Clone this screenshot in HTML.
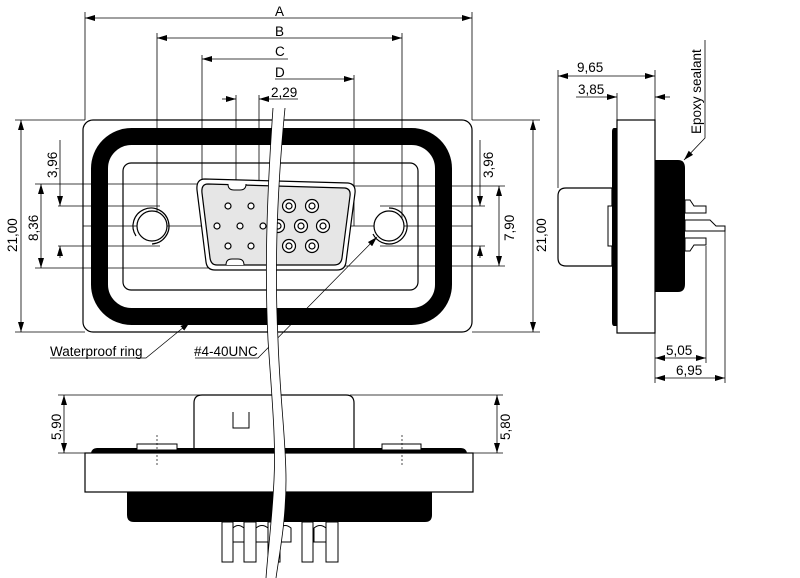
<!DOCTYPE html>
<html><head><meta charset="utf-8"><style>
html,body{margin:0;padding:0;background:#fff;}
svg{display:block;}
text{font-family:"Liberation Sans",sans-serif;font-size:13.5px;fill:#000;}
</style></head><body>
<svg width="800" height="578" viewBox="0 0 800 578" xmlns="http://www.w3.org/2000/svg">
<defs>
<marker id="a" viewBox="0 0 10 6" refX="10" refY="3" markerWidth="10" markerHeight="6" orient="auto-start-reverse" markerUnits="userSpaceOnUse"><path d="M0,0L10,3L0,6z" fill="#000"/></marker>
</defs>
<g stroke="#000" stroke-width="0.8" fill="none">
<line x1="85" y1="12" x2="85" y2="120"/><line x1="472" y1="12" x2="472" y2="120"/>
<line x1="85" y1="18" x2="472" y2="18" marker-start="url(#a)" marker-end="url(#a)"/>
<line x1="157" y1="33" x2="157" y2="226"/><line x1="402" y1="33" x2="402" y2="226"/>
<line x1="157" y1="38" x2="402" y2="38" marker-start="url(#a)" marker-end="url(#a)"/>
<line x1="202" y1="55" x2="202" y2="226"/>
<line x1="202" y1="59" x2="288" y2="59" marker-start="url(#a)"/>
<line x1="354" y1="75" x2="354" y2="226"/>
<line x1="275" y1="79" x2="354" y2="79" marker-end="url(#a)"/>
<line x1="236" y1="95" x2="236" y2="206"/><line x1="259" y1="95" x2="259" y2="206"/>
<line x1="222" y1="99" x2="236" y2="99" marker-end="url(#a)"/>
<line x1="298" y1="99" x2="259" y2="99" marker-end="url(#a)"/>
<line x1="15" y1="120" x2="85" y2="120"/><line x1="15" y1="332" x2="85" y2="332"/>
<line x1="21" y1="120" x2="21" y2="332" marker-start="url(#a)" marker-end="url(#a)"/>
<line x1="472" y1="120" x2="540" y2="120"/><line x1="472" y1="332" x2="540" y2="332"/>
<line x1="533" y1="120" x2="533" y2="332" marker-start="url(#a)" marker-end="url(#a)"/>
<line x1="35" y1="184" x2="200" y2="184"/><line x1="35" y1="268" x2="208" y2="268"/>
<line x1="41" y1="184" x2="41" y2="268" marker-start="url(#a)" marker-end="url(#a)"/>
<line x1="58" y1="206" x2="160" y2="206"/><line x1="58" y1="246" x2="160" y2="246"/>
<line x1="60" y1="140" x2="60" y2="206" marker-end="url(#a)"/>
<line x1="60" y1="246" x2="60" y2="258" marker-start="url(#a)"/>
<line x1="380" y1="206" x2="485" y2="206"/><line x1="380" y1="246" x2="485" y2="246"/>
<line x1="480" y1="140" x2="480" y2="206" marker-end="url(#a)"/>
<line x1="480" y1="246" x2="480" y2="258" marker-start="url(#a)"/>
<line x1="345" y1="186" x2="505" y2="186"/><line x1="345" y1="266" x2="505" y2="266"/>
<line x1="499" y1="186" x2="499" y2="266" marker-start="url(#a)" marker-end="url(#a)"/>
</g>
<rect x="83" y="120" width="389" height="212" rx="10" fill="none" stroke="#000" stroke-width="1.2"/>
<rect x="99.5" y="136.5" width="344" height="180" rx="32" fill="none" stroke="#000" stroke-width="17"/>
<rect x="123" y="163" width="295" height="127" rx="8" fill="none" stroke="#000" stroke-width="1.2"/>
<g stroke="#000" stroke-width="0.8"><line x1="83" y1="226" x2="472" y2="226"/></g>
<path d="M205,179 L348,183 Q356,184 355,193 L346,262 Q345,270 337,270 L215,270 Q207,270 206,262 L197,190 Q196,179 205,179Z" fill="#fff" stroke="#000" stroke-width="1.2"/>
<path d="M208,184 L345,188 Q351,189 350,196 L342,258 Q341,265 334,265 L217,265 Q211,265 210,258 L202,193 Q201,184 208,184Z" fill="#e6e6e6" stroke="#000" stroke-width="1.2"/>
<path d="M228,184 q0,6 6,6 h6 q6,0 6,-6" fill="#fff" stroke="#000"/>
<path d="M226,265 q0,-6 6,-6 h6 q6,0 6,6" fill="#fff" stroke="#000"/>
<g fill="#fff" stroke="#000" stroke-width="1.2">
<circle cx="228" cy="206" r="3"/><circle cx="251" cy="206" r="3"/>
<circle cx="217" cy="226" r="3"/><circle cx="240" cy="226" r="3"/><circle cx="263" cy="226" r="3"/>
<circle cx="228" cy="246" r="3"/><circle cx="251" cy="246" r="3"/>
<circle cx="289" cy="206" r="6.5"/><circle cx="312" cy="206" r="6.5"/>
<circle cx="278" cy="226" r="6.5"/><circle cx="301" cy="226" r="6.5"/><circle cx="323" cy="226" r="6.5"/>
<circle cx="289" cy="246" r="6.5"/><circle cx="312" cy="246" r="6.5"/>
<circle cx="289" cy="206" r="3"/><circle cx="312" cy="206" r="3"/>
<circle cx="278" cy="226" r="3"/><circle cx="301" cy="226" r="3"/><circle cx="323" cy="226" r="3"/>
<circle cx="289" cy="246" r="3"/><circle cx="312" cy="246" r="3"/>
<circle cx="152" cy="226" r="15"/><circle cx="389" cy="226" r="15"/>
</g>
<g fill="none" stroke="#000" stroke-width="1.2">
<path d="M136,236 A18,18 0 1 1 152,244"/>
<path d="M373,234 A18,18 0 1 0 389,208"/>
</g>
<g stroke="#000" stroke-width="0.7" fill="none">
<path d="M50,358 H146 L190,322" marker-end="url(#a)"/>
<path d="M195,358 H258 L377,237" marker-end="url(#a)"/>
</g>
<text x="50" y="356">Waterproof ring</text>
<text x="194" y="356">#4-40UNC</text>
<path d="M566,188 H612 V266 H566 Q558,266 558,258 V196 Q558,188 566,188Z" fill="#fff" stroke="#000" stroke-width="1.2"/>
<rect x="608" y="206" width="9" height="40" fill="#fff" stroke="#000"/>
<path d="M617,128 V326 H614 Q612,326 612,322 V132 Q612,128 614,128Z" fill="#000"/>
<rect x="617" y="120" width="38" height="213" fill="#fff" stroke="#000" stroke-width="1.2"/>
<path d="M655,160 H678 Q685,160 685,168 V284 Q685,292 678,292 H655Z" fill="#000"/>
<g fill="#fff" stroke="#000">
<path d="M685,200 h5 l4,6 h12 v7 h-21z"/>
<path d="M685,220 h25 l6,6 h9 v5 h-40z"/>
<path d="M685,238 h21 v7 h-12 l-4,6 h-5z"/>
</g>
<g stroke="#000" stroke-width="0.8" fill="none">
<line x1="558" y1="70" x2="558" y2="188"/><line x1="655" y1="70" x2="655" y2="383"/>
<line x1="558" y1="76" x2="655" y2="76" marker-start="url(#a)" marker-end="url(#a)"/>
<line x1="617" y1="93" x2="617" y2="120"/>
<line x1="576" y1="97" x2="617" y2="97" marker-end="url(#a)"/>
<line x1="670" y1="97" x2="655" y2="97" marker-end="url(#a)"/>
<line x1="706" y1="246" x2="706" y2="363"/><line x1="725" y1="231" x2="725" y2="383"/>
<line x1="655" y1="358" x2="706" y2="358" marker-start="url(#a)" marker-end="url(#a)"/>
<line x1="655" y1="378" x2="725" y2="378" marker-start="url(#a)" marker-end="url(#a)"/>
<path d="M705,40 V138 L684,160" marker-end="url(#a)"/>
</g>
<text x="577" y="72">9,65</text>
<text x="578" y="94">3,85</text>
<text x="666" y="355">5,05</text>
<text x="676" y="375">6,95</text>
<text transform="translate(701,134) rotate(-90)">Epoxy sealant</text>
<path d="M202,395 H346 Q354,395 354,403 V449 H194 V403 Q194,395 202,395Z" fill="#fff" stroke="#000" stroke-width="1.2"/>
<path d="M233,412 V428 H249 V412" fill="none" stroke="#000"/>
<path d="M97,448 H461 Q466,448 467,453 H91 Q92,448 97,448Z" fill="#000"/>
<rect x="137" y="444" width="40" height="6" fill="#fff" stroke="#000"/>
<rect x="382" y="444" width="39" height="6" fill="#fff" stroke="#000"/>
<rect x="85" y="453" width="388" height="39" fill="#fff" stroke="#000" stroke-width="1.2"/>
<g stroke="#000" stroke-width="0.7" stroke-dasharray="2,2"><line x1="157" y1="435" x2="157" y2="466"/><line x1="402" y1="435" x2="402" y2="466"/></g>
<path d="M127,492 H432 V515 Q432,522 425,522 H134 Q127,522 127,515Z" fill="#000"/>
<g fill="#fff" stroke="#000">
<rect x="222" y="522" width="11" height="40"/><rect x="244" y="522" width="12" height="40"/>
<rect x="268" y="522" width="12" height="40"/><rect x="302" y="522" width="11" height="40"/>
<rect x="326" y="522" width="12" height="40"/>
<path d="M233,542 V528 q5,-5 11,0 V542z"/><path d="M256,542 V528 q6,-5 12,0 V542z"/>
<path d="M280,542 V528 q5,-5 11,0 V542z"/><path d="M314,542 V528 q6,-5 12,0 V542z"/>
</g>
<g stroke="#000" stroke-width="0.8" fill="none">
<line x1="58" y1="395" x2="200" y2="395"/><line x1="58" y1="453" x2="90" y2="453"/>
<line x1="64" y1="395" x2="64" y2="453" marker-start="url(#a)" marker-end="url(#a)"/>
<line x1="350" y1="395" x2="503" y2="395"/><line x1="470" y1="453" x2="503" y2="453"/>
<line x1="497" y1="395" x2="497" y2="453" marker-start="url(#a)" marker-end="url(#a)"/>
</g>
<path d="M273,108 C268,180 264,260 268,340 C272,400 276,440 274,480 C272,520 268,550 266,578 L276,578 C280,550 286,520 286,480 C286,440 280,400 278,340 C274,260 278,180 285,108Z" fill="#fff" stroke="none"/>
<g fill="none" stroke="#000" stroke-width="0.8">
<path d="M273,108 C268,180 264,260 268,340 C272,400 276,440 274,480 C272,520 268,550 266,578"/>
<path d="M285,108 C278,180 274,260 278,340 C280,400 286,440 286,480 C286,520 280,550 276,578"/>
</g>
<text x="275" y="16">A</text><text x="275" y="36">B</text><text x="275" y="56">C</text><text x="275" y="77">D</text>
<text x="271" y="97">2,29</text>
<g>
<text transform="translate(17,252) rotate(-90)">21,00</text>
<text transform="translate(38,241) rotate(-90)">8,36</text>
<text transform="translate(57,178) rotate(-90)">3,96</text>
<text transform="translate(493,178) rotate(-90)">3,96</text>
<text transform="translate(514,241) rotate(-90)">7,90</text>
<text transform="translate(546,252) rotate(-90)">21,00</text>
<text transform="translate(61,440) rotate(-90)">5,90</text>
<text transform="translate(510,440) rotate(-90)">5,80</text>
</g>
</svg>
</body></html>
